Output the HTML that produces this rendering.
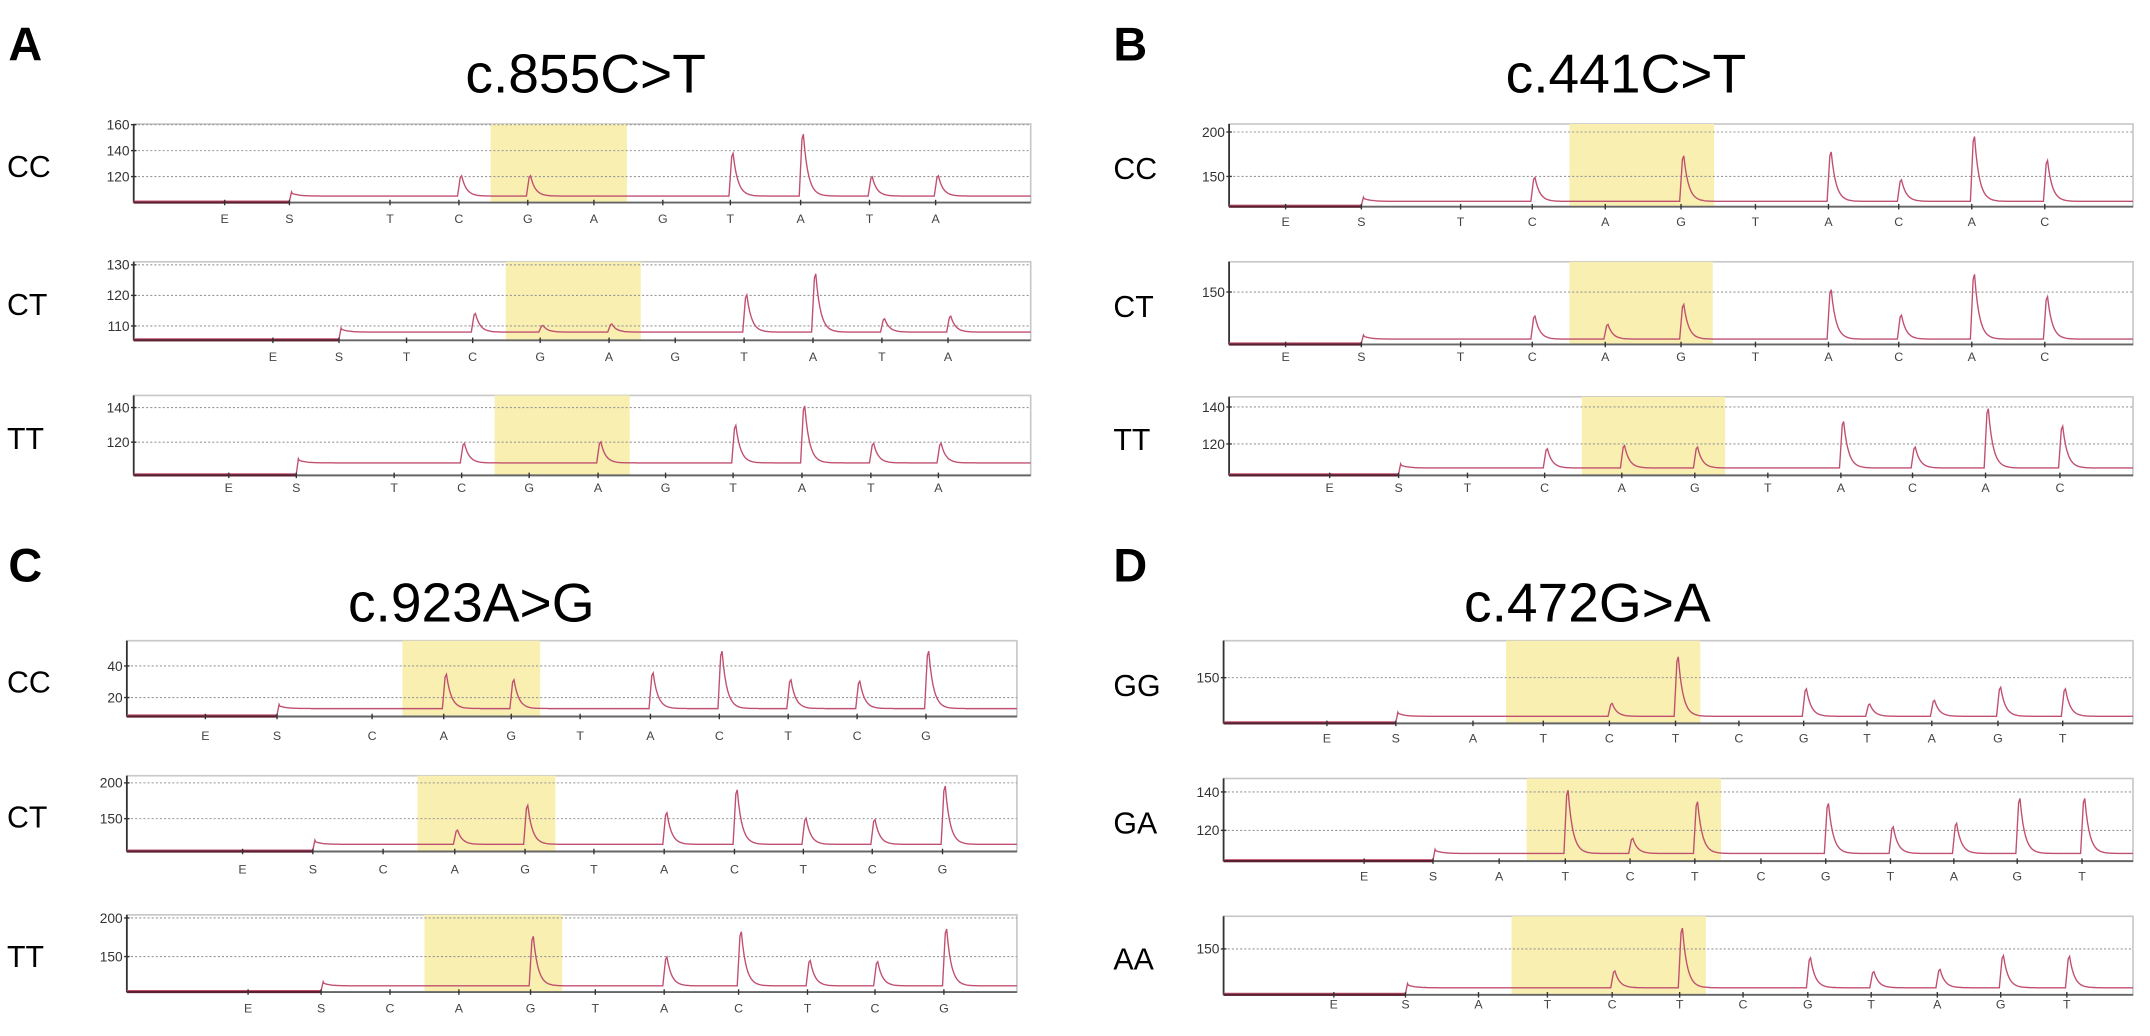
<!DOCTYPE html>
<html><head><meta charset="utf-8"><style>
html,body{margin:0;padding:0;background:#fff;width:2150px;height:1036px;overflow:hidden}
svg{display:block}
text{font-family:"Liberation Sans",sans-serif}
</style></head><body>
<svg id="fig" width="2150" height="1036" viewBox="0 0 1560.3 751.9" xmlns="http://www.w3.org/2000/svg">
<g font-weight="bold" font-size="34">
<text x="6" y="44">A</text>
<text x="808" y="44">B</text>
<text x="6" y="422">C</text>
<text x="808" y="422">D</text>
</g>
<g font-size="40" text-anchor="middle">
<text x="425" y="67">c.855C&gt;T</text>
<text x="1180" y="67">c.441C&gt;T</text>
<text x="342" y="451">c.923A&gt;G</text>
<text x="1152" y="451">c.472G&gt;A</text>
</g>
<g id="plots"></g>
</svg>
<script>
// ---- data ----
const lettersA = ["E","S","T","C","G","A","G","T","A","T","A"];
const lettersB = ["E","S","T","C","A","G","T","A","C","A","C"];
const lettersC = ["E","S","C","A","G","T","A","C","T","C","G"];
const lettersD = ["E","S","A","T","C","T","C","G","T","A","G","T"];
const peaksA_CC = [0,0,0,123,123,0,0,143,160,122,123];
const peaksA_CT = [0,0,0,115,110.5,111,0,122,130,113,114];
const peaksA_TT = [0,0,0,121,0,122,0,133,146,121,121];
const peaksB_CC = [0,0,0,153,0,181,0,186,150,206,175];
const peaksB_CT = [0,0,0,127,116,142,0,161,128,181,152];
const peaksB_TT = [0,0,0,119,121,120,0,136,120,144,133];
const peaksC_CC = [0,0,0,38,34,0,39,55,34,33,55];
const peaksC_CT = [0,0,0,137,177,0,165,202,156,154,208];
const peaksC_TT = [0,0,0,0,186,0,155,193,150,148,197];
const peaksD_GG = [0,0,0,0,123,184,0,142,122,127,144,142];
const peaksD_GA = [0,0,0,146,117,139,0,138,124,126,141,141];
const peaksD_AA = [0,0,0,0,128,184,0,145,127,130,148,147];
const baseA = [105,108,108];
const baseB = [122,97,107];
const baseC = [13,114,112];
const baseD = [106,108,106];
const ticksA = [[160,140,120],[130,120,110],[140,120]];
const ticksB = [[200,150],[150],[140,120]];
const ticksC = [[40,20],[200,150],[200,150]];
const ticksD = [[150],[140,120],[150]];

// ---- layout ----
const layouts = [
 {name:"a-cc",gl:"CC",lx:5,x0:97,x1:748,y0:90,y1:147,vmin:100,vmax:160.5,ticks:ticksA[0],hl:[356,455],ly:162,letters:lettersA,peaks:peaksA_CC,base:baseA[0],xs:[163,210,283,333,383,431,481,530,581,631,679]},
 {name:"a-ct",gl:"CT",lx:5,x0:97,x1:748,y0:190,y1:247,vmin:105.3,vmax:131,ticks:ticksA[1],hl:[367,465],ly:262,letters:lettersA,peaks:peaksA_CT,base:baseA[1],xs:[198,246,295,343,392,442,490,540,590,640,688]},
 {name:"a-tt",gl:"TT",lx:5,x0:97,x1:748,y0:287,y1:345,vmin:100.8,vmax:147,ticks:ticksA[2],hl:[359,457],ly:357,letters:lettersA,peaks:peaksA_TT,base:baseA[2],xs:[166,215,286,335,384,434,483,532,582,632,681]},
 {name:"b-cc",gl:"CC",lx:808,x0:892,x1:1548,y0:90,y1:150,vmin:116,vmax:209,ticks:ticksB[0],hl:[1139,1244],ly:164,letters:lettersB,peaks:peaksB_CC,base:baseB[0],xs:[933,988,1060,1112,1165,1220,1274,1327,1378,1431,1484]},
 {name:"b-ct",gl:"CT",lx:808,x0:892,x1:1548,y0:190,y1:250,vmin:91,vmax:184,ticks:ticksB[1],hl:[1139,1243],ly:262,letters:lettersB,peaks:peaksB_CT,base:baseB[1],xs:[933,988,1060,1112,1165,1220,1274,1327,1378,1431,1484]},
 {name:"b-tt",gl:"TT",lx:808,x0:892,x1:1548,y0:288,y1:345,vmin:103,vmax:145.5,ticks:ticksB[2],hl:[1148,1252],ly:357,letters:lettersB,peaks:peaksB_TT,base:baseB[2],xs:[965,1015,1065,1121,1177,1230,1283,1336,1388,1441,1495]},
 {name:"c-cc",gl:"CC",lx:5,x0:92,x1:738,y0:465,y1:520,vmin:8,vmax:56,ticks:ticksC[0],hl:[292,392],ly:537,letters:lettersC,peaks:peaksC_CC,base:baseC[0],xs:[149,201,270,322,371,421,472,522,572,622,672]},
 {name:"c-ct",gl:"CT",lx:5,x0:92,x1:738,y0:563,y1:618,vmin:104,vmax:210,ticks:ticksC[1],hl:[303,403],ly:634,letters:lettersC,peaks:peaksC_CT,base:baseC[1],xs:[176,227,278,330,381,431,482,533,583,633,684]},
 {name:"c-tt",gl:"TT",lx:5,x0:92,x1:738,y0:664,y1:720,vmin:104,vmax:204,ticks:ticksC[2],hl:[308,408],ly:735,letters:lettersC,peaks:peaksC_TT,base:baseC[2],xs:[180,233,283,333,385,432,482,536,586,635,685]},
 {name:"d-gg",gl:"GG",lx:808,x0:888,x1:1548,y0:465,y1:525,vmin:98,vmax:192,ticks:ticksD[0],hl:[1093,1234],ly:539,letters:lettersD,peaks:peaksD_GG,base:baseD[0],xs:[963,1013,1069,1120,1168,1216,1262,1309,1355,1402,1450,1497]},
 {name:"d-ga",gl:"GA",lx:808,x0:888,x1:1548,y0:565,y1:625,vmin:104,vmax:147,ticks:ticksD[1],hl:[1108,1249],ly:639,letters:lettersD,peaks:peaksD_GA,base:baseD[1],xs:[990,1040,1088,1136,1183,1230,1278,1325,1372,1418,1464,1511]},
 {name:"d-aa",gl:"AA",lx:808,x0:888,x1:1548,y0:665,y1:722,vmin:98,vmax:187,ticks:ticksD[2],hl:[1097,1238],ly:732,letters:lettersD,peaks:peaksD_AA,base:baseD[2],xs:[968,1020,1073,1123,1170,1219,1265,1312,1358,1406,1452,1500]}
];
const NS="http://www.w3.org/2000/svg";
function mk(tag,attrs,parent){const e=document.createElementNS(NS,tag);for(const k in attrs)e.setAttribute(k,attrs[k]);parent.appendChild(e);return e;}
const root=document.getElementById('plots');
layouts.forEach(p=>{
  const g=mk('g',{},root);
  
  
  const Y=v=>p.y1-(v-p.vmin)/(p.vmax-p.vmin)*(p.y1-p.y0);
  const lab=mk('text',{x:p.lx,y:(p.y0+p.y1)/2+10,'font-size':22},g);
  lab.textContent=p.gl;
  
  
  const box=mk('rect',{x:p.x0,y:p.y0,width:p.x1-p.x0,height:p.y1-p.y0,fill:'#fff',stroke:'#c8c8c8','stroke-width':1.2},g);
  
  
  const hl=mk('rect',{x:p.hl[0],y:p.y0,width:p.hl[1]-p.hl[0],height:p.y1-p.y0,fill:'#f8efb0'},g);
  
  
  p.ticks.forEach(t=>{
    const gl=mk('line',{x1:p.x0,x2:p.x1,y1:Y(t),y2:Y(t),stroke:'#999','stroke-width':0.8,'stroke-dasharray':'1.5,1.5'},g);
    
    
    const tl=mk('text',{x:p.x0-3,y:Y(t)+3.5,'font-size':10,'text-anchor':'end',fill:'#333'},g);
    tl.textContent=t;
    
    
    mk('line',{x1:p.x0-2,x2:p.x0+2,y1:Y(t),y2:Y(t),stroke:'#333','stroke-width':1},g);
  });
  const ax=mk('line',{x1:p.x0,x2:p.x0,y1:p.y0,y2:p.y1,stroke:'#333','stroke-width':1.3},g);
  
  
  const sx=p.xs[1];
  let d=`M${p.x0},${p.y1-1} L${sx},${p.y1-1} L${sx+1.5},${Y(p.base)-3}`;
  const pts=[];
  for(let x=sx+2;x<=p.x1;x+=1){
    let v=p.base;
    v+= (p.vmax-p.vmin)*0.05*Math.exp(-(x-sx)/5);
    p.xs.forEach((px,i)=>{
      const h=p.peaks[i];
      if(i<2||!h)return;
      const amp=h-p.base;
      if(x>=px-1&&x<px+1.5) v+=amp*(x-px+1)/2.5;
      else if(x>=px+1.5) v+=amp*Math.exp(-(x-px-1.5)/3.5);
    });
    pts.push(`L${x},${Y(v).toFixed(1)}`);
  }
  d+=pts.join('');
  const tr=mk('path',{d:d,fill:'none',stroke:'#c05070','stroke-width':1},g);
  
  
  const bl=mk('line',{x1:p.x0,x2:p.x1,y1:p.y1,y2:p.y1,stroke:'#666','stroke-width':1.4},g);
  
  
  mk('line',{x1:p.x0,x2:sx,y1:p.y1,y2:p.y1,stroke:'#5a2030','stroke-width':1.6},g);
  p.letters.forEach((L,i)=>{
    const x=p.xs[i];
    mk('line',{x1:x,x2:x,y1:p.y1-2,y2:p.y1+2,stroke:'#333','stroke-width':1},g);
    const t=mk('text',{x:x,y:p.ly,'font-size':9,'text-anchor':'middle',fill:'#444'},g);
    t.textContent=L;
    
    
  });
});
</script>
</body></html>
